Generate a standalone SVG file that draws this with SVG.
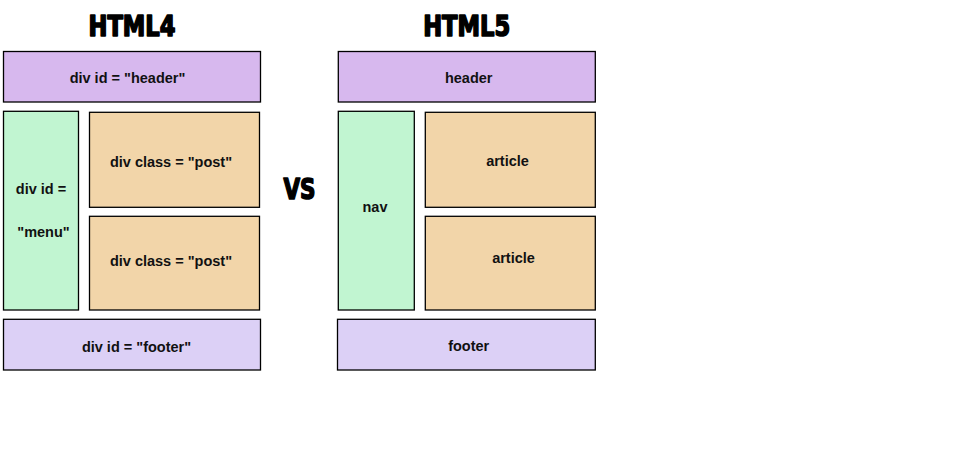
<svg xmlns="http://www.w3.org/2000/svg" width="974" height="449" viewBox="0 0 974 449">
<style>
.box{stroke:#000;stroke-width:1.3}
.hd{fill:#D7B8EE}
.ft{fill:#DCD0F6}
.nv{fill:#C1F5D1}
.ps{fill:#F2D5A9}
.t{font-family:"Liberation Sans",Arial,sans-serif;font-weight:bold;font-size:14.5px;fill:#111;text-anchor:middle}
.ti{font-family:"DejaVu Sans",sans-serif;font-weight:900;font-stretch:condensed;font-size:29px;fill:#000;stroke:#000;stroke-width:1.6;stroke-linejoin:round;text-anchor:middle}
</style>
<rect width="974" height="449" fill="#fff"/>
<text class="ti" x="132" y="35.5" textLength="87" lengthAdjust="spacingAndGlyphs">HTML4</text>
<text class="ti" x="466.7" y="35.5" textLength="87" lengthAdjust="spacingAndGlyphs">HTML5</text>
<text class="ti" x="299.5" y="198.5" font-size="26" textLength="32" lengthAdjust="spacingAndGlyphs">VS</text>
<g id="h4-header"><rect class="box hd" x="3.5" y="51.5" width="257" height="50.5"/><text class="t" x="127.5" y="83">div id = "header"</text></g>
<g id="h4-menu"><rect class="box nv" x="3.5" y="111.3" width="75" height="198.7"/><text class="t" x="41" y="194">div id =</text><text class="t" x="43.5" y="236.5">"menu"</text></g>
<g id="h4-post1"><rect class="box ps" x="89.5" y="112.3" width="170" height="95"/><text class="t" x="171" y="166.7">div class = "post"</text></g>
<g id="h4-post2"><rect class="box ps" x="89.5" y="216.3" width="170" height="93.7"/><text class="t" x="171" y="265.7">div class = "post"</text></g>
<g id="h4-footer"><rect class="box ft" x="3.5" y="319.3" width="257" height="50.7"/><text class="t" x="136.5" y="352.3">div id = "footer"</text></g>
<g id="h5-header"><rect class="box hd" x="338.3" y="51.5" width="257" height="50.5"/><text class="t" x="468.7" y="82.7">header</text></g>
<g id="h5-nav"><rect class="box nv" x="338.3" y="111.3" width="76" height="198.7"/><text class="t" x="375" y="211.7">nav</text></g>
<g id="h5-article1"><rect class="box ps" x="425.3" y="112.3" width="170" height="95"/><text class="t" x="507.5" y="165.7">article</text></g>
<g id="h5-article2"><rect class="box ps" x="425.3" y="216.3" width="170" height="93.7"/><text class="t" x="513.5" y="263.3">article</text></g>
<g id="h5-footer"><rect class="box ft" x="337.5" y="319.3" width="257.8" height="50.7"/><text class="t" x="468.7" y="350.7">footer</text></g>
<g id="connectors"></g>
</svg>
